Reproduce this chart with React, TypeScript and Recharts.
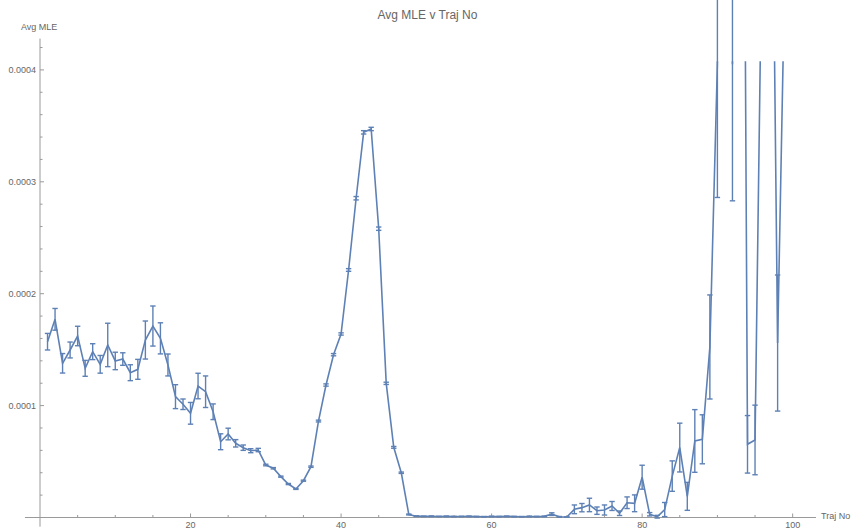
import React from 'react';
import { LineChart, Line, XAxis, YAxis, ErrorBar, ReferenceLine } from 'recharts';

// hodnoty MLE v jednotkách 1e-4
const trajNo = [
  1, 2, 3, 4, 5, 6, 7, 8, 9, 10, 11, 12, 13, 14, 15, 16, 17, 18, 19, 20,
  21, 22, 23, 24, 25, 26, 27, 28, 29, 30, 31, 32, 33, 34, 35, 36, 37, 38, 39, 40,
  41, 42, 43, 44, 45, 46, 47, 48, 49, 50, 51, 52, 53, 54, 55, 56, 57, 58, 59, 60,
  61, 62, 63, 64, 65, 66, 67, 68, 69, 70, 71, 72, 73, 74, 75, 76, 77, 78, 79, 80,
  81, 82, 83, 84, 85, 86, 87, 88, 89, 90, 91, 92, 93, 94, 95, 96, 97, 98, 99,
];

const avgMle = [
  1.571, 1.771, 1.378, 1.497, 1.622, 1.333, 1.482, 1.369, 1.542, 1.399,
  1.416, 1.294, 1.324, 1.586, 1.711, 1.601, 1.363, 1.080, 1.012, 0.931,
  1.175, 1.124, 0.945, 0.677, 0.746, 0.663, 0.624, 0.597, 0.603, 0.469,
  0.440, 0.365, 0.299, 0.255, 0.329, 0.454, 0.862, 1.184, 1.455, 1.640,
  2.212, 2.853, 3.442, 3.472, 2.581, 1.199, 0.627, 0.400, 0.027, 0.012,
  0.010, 0.011, 0.009, 0.010, 0.008, 0.009, 0.010, 0.008, 0.007, 0.009,
  0.008, 0.010, 0.008, 0.007, 0.009, 0.008, 0.010, 0.030, 0.006, 0.004,
  0.073, 0.088, 0.112, 0.061, 0.067, 0.103, 0.038, 0.132, 0.127, 0.360,
  0.029, 0.007, 0.071, 0.370, 0.625, 0.189, 0.684, 0.699, 1.524, 4.060,
  12.0, 4.050, 13.0, 0.654, 0.693, 5.600, 7.800, 1.559, 5.040,
];

const mleErr = [
  0.074, 0.097, 0.087, 0.071, 0.087, 0.071, 0.071, 0.079, 0.194, 0.078,
  0.056, 0.071, 0.089, 0.170, 0.179, 0.139, 0.098, 0.107, 0.047, 0.097,
  0.114, 0.141, 0.070, 0.071, 0.052, 0.033, 0.024, 0.018, 0.015, 0.007,
  0.006, 0.005, 0.005, 0.004, 0.005, 0.006, 0.008, 0.010, 0.010, 0.010,
  0.012, 0.015, 0.015, 0.015, 0.015, 0.010, 0.008, 0.006, 0.004, 0.003,
  0.002, 0.003, 0.002, 0.003, 0.002, 0.002, 0.003, 0.002, 0.002, 0.003,
  0.002, 0.003, 0.002, 0.002, 0.003, 0.002, 0.003, 0.012, 0.003, 0.002,
  0.039, 0.037, 0.060, 0.033, 0.045, 0.040, 0.020, 0.052, 0.075, 0.107,
  0.015, 0.012, 0.063, 0.136, 0.218, 0.125, 0.280, 0.219, 0.465, 1.200,
  0.500, 1.220, 0.500, 0.257, 0.311, 0.500, 0.300, 0.608, 0.300,
];

const xTicks = [5, 10, 15, 20, 25, 30, 35, 40, 45, 50, 55, 60, 65, 70, 75, 80, 85, 90, 95, 100];
const xTickLabels = [20, 40, 60, 80, 100];
const yTicks = [
  0.00002, 0.00004, 0.00006, 0.00008, 0.0001, 0.00012, 0.00014, 0.00016, 0.00018, 0.0002, 0.00022,
  0.00024, 0.00026, 0.00028, 0.0003, 0.00032, 0.00034, 0.00036, 0.00038, 0.0004, 0.00042,
];
const yTickLabels = [0.0001, 0.0002, 0.0003, 0.0004];

const UNIT = 1e-4;
const W = 857;
const H = 531;
const PLOT_LEFT = 40;
const PLOT_RIGHT = 816;
const PLOT_TOP = 37;
const PLOT_BOTTOM = 517.5;
const X_MAX = 103.1;
const Y_MAX = 4.294e-4;
// čára se ořezává níž než chybové úsečky (jako v Mathematice)
const LINE_CLIP = 4.077e-4;
const LINE_TOP = PLOT_BOTTOM - (LINE_CLIP / Y_MAX) * (PLOT_BOTTOM - PLOT_TOP);

const BLUE = '#5e81b5';
const AXIS = '#9a9a9a';
const TEXT = '#666666';
const FONT = '"Liberation Sans", Arial, sans-serif';

const data = trajNo.map((x, i) => ({ x, y: avgMle[i] * UNIT, err: mleErr[i] * UNIT }));

const isMajorY = (v: number) => yTickLabels.some(t => Math.abs(t - v) < 1e-9);

const renderXTick = (props: any) => {
  const { x, y, payload } = props;
  const v = payload.value;
  const major = xTickLabels.includes(v);
  return (
    <g>
      <line x1={x} x2={x} y1={y} y2={y - (major ? 4 : 2.5)} stroke={AXIS} />
      {major && (
        <text x={x} y={y + 10.8} textAnchor="middle" fontSize={9} fill={TEXT} fontFamily={FONT}>
          {v}
        </text>
      )}
    </g>
  );
};

const renderYTick = (props: any) => {
  const { x, y, payload } = props;
  const v = payload.value;
  const major = isMajorY(v);
  return (
    <g>
      <line x1={x} x2={x + (major ? 4 : 2.5)} y1={y} y2={y} stroke={AXIS} />
      {major && (
        <text x={x - 4} y={y + 3.2} textAnchor="end" fontSize={9} fill={TEXT} fontFamily={FONT}>
          {v.toFixed(4)}
        </text>
      )}
    </g>
  );
};

export default function App() {
  const right = W - PLOT_RIGHT;
  const xAxisH = H - PLOT_BOTTOM;
  return (
    <div style={{ position: 'absolute', left: 0, top: 0, width: W, height: H, background: '#fff', fontFamily: FONT }}>
      {/* osy + chybové úsečky */}
      <div style={{ position: 'absolute', left: 0, top: 0 }}>
        <LineChart width={W} height={H} data={data} margin={{ top: PLOT_TOP, right, bottom: 0, left: 0 }}>
          <XAxis
            dataKey="x"
            type="number"
            domain={[0, X_MAX]}
            allowDataOverflow
            ticks={xTicks}
            interval={0}
            tick={renderXTick}
            tickLine={false}
            axisLine={false}
            tickSize={0}
            tickMargin={0}
            height={xAxisH}
          />
          <YAxis
            type="number"
            domain={[0, Y_MAX]}
            allowDataOverflow
            ticks={yTicks}
            interval={0}
            tick={renderYTick}
            tickLine={false}
            axisLine={false}
            tickSize={0}
            tickMargin={0}
            width={PLOT_LEFT}
          />
          <ReferenceLine segment={[{ x: -2, y: 0 }, { x: X_MAX, y: 0 }]} stroke={AXIS} ifOverflow="visible" />
          <ReferenceLine segment={[{ x: 0, y: -0.082 * UNIT }, { x: 0, y: 4.28 * UNIT }]} stroke={AXIS} ifOverflow="visible" />
          <Line dataKey="y" stroke="none" dot={false} activeDot={false} isAnimationActive={false}>
            <ErrorBar dataKey="err" direction="y" width={2.7} stroke={BLUE} strokeWidth={1.4} isAnimationActive={false} />
          </Line>
        </LineChart>
      </div>
      {/* datová čára */}
      <div style={{ position: 'absolute', left: 0, top: 0 }}>
        <LineChart width={W} height={H} data={data} margin={{ top: LINE_TOP, right, bottom: 0, left: 0 }}>
          <XAxis dataKey="x" type="number" domain={[0, X_MAX]} allowDataOverflow tick={false} tickLine={false} axisLine={false} height={xAxisH} />
          <YAxis type="number" domain={[0, LINE_CLIP]} allowDataOverflow tick={false} tickLine={false} axisLine={false} width={PLOT_LEFT} />
          <Line type="linear" dataKey="y" stroke={BLUE} strokeWidth={1.6} dot={false} activeDot={false} isAnimationActive={false} />
        </LineChart>
      </div>
      <svg width={W} height={H} style={{ position: 'absolute', left: 0, top: 0, pointerEvents: 'none' }}>
        <text x={427.5} y={19} textAnchor="middle" fontSize={12} fill={TEXT} fontFamily={FONT}>
          Avg MLE v Traj No
        </text>
        <text x={21} y={29.5} fontSize={9} fill={TEXT} fontFamily={FONT}>
          Avg MLE
        </text>
        <text x={821} y={518.5} fontSize={9} fill={TEXT} fontFamily={FONT}>
          Traj No
        </text>
      </svg>
    </div>
  );
}
